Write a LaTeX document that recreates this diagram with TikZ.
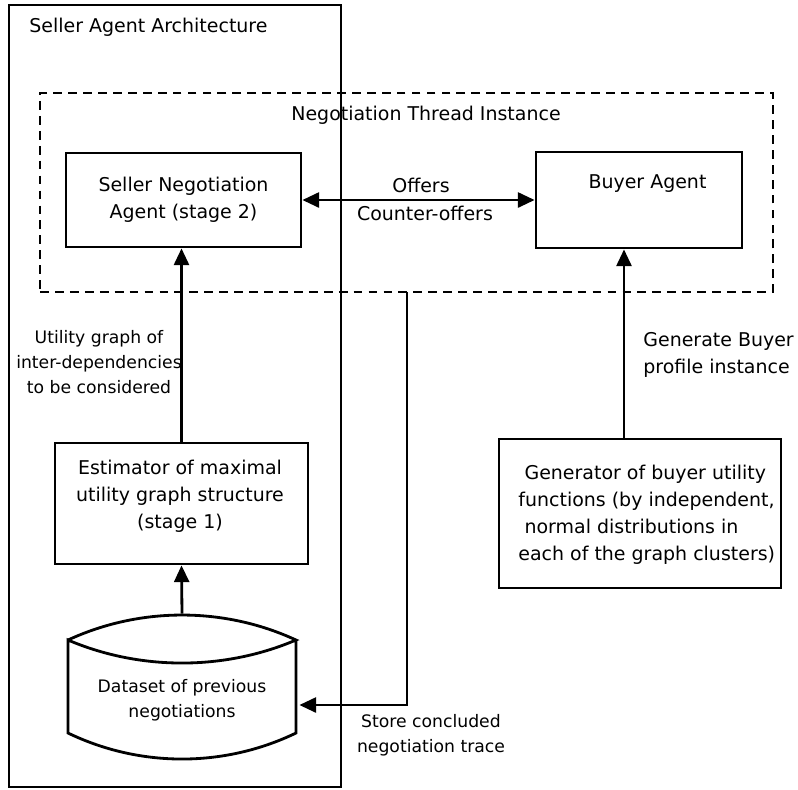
\documentclass[tikz,border=0pt]{standalone}
\usepackage{fontspec}
\setmainfont{DejaVu Sans}
\usetikzlibrary{arrows.meta}
\usetikzlibrary{calc}

\begin{document}
\begin{tikzpicture}[x=0.02cm, y=-0.02cm, line width=1.6pt,
  box/.style={draw, inner sep=0},
  txt/.style={font=\fontsize{10.8}{15.4}\selectfont, inner sep=0, align=center},
  small/.style={font=\fontsize{9.8}{14.2}\selectfont, inner sep=0, align=center},
  arr/.style={-{Triangle[length=9.5pt,width=8.5pt]}},
  arrboth/.style={{Triangle[length=9.5pt,width=8.5pt]}-{Triangle[length=9.5pt,width=8.5pt]}}]
\useasboundingbox (0,0) rectangle (798,789);
% seller side and the thread running between the agents
\node[box, minimum width=6.64cm, minimum height=15.64cm] (seller) at (175,396) {};
\node[txt, anchor=west] (sellertitle) at (28,27) {Seller Agent Architecture};
\node[box, dash pattern=on 5pt off 3.5pt, minimum width=14.66cm, minimum height=3.98cm] (thread) at (406.5,192.5) {};
\node[txt] (threadtitle) at (426,115) {Negotiation Thread Instance};
% agents
\node[box, txt, minimum width=4.7cm, minimum height=1.88cm] (sna) at (183.5,200) {Seller Negotiation\\Agent (stage 2)};
\node[box, minimum width=4.12cm, minimum height=1.92cm] (buyer) at (639,200) {};
\node[txt] (buyertxt) at (647.5,184) {Buyer Agent};
% estimator and generator
\node[box, minimum width=5.06cm, minimum height=2.42cm] (est) at (181.5,503.5) {};
\node[txt] (esttxt) at (180,496.5) {Estimator of maximal\\utility graph structure\\(stage 1)};
\node[box, minimum width=5.64cm, minimum height=2.98cm] (gen) at (640,513.5) {};
\node[txt, align=left, anchor=west] (gentxt) at (517,514.5) {\hspace*{3.5pt}Generator of buyer utility\\functions (by independent,\\\hspace*{3.5pt}normal distributions in\\each of the graph clusters)};
% dataset drum
\draw (68,640) .. controls (140,606.7) and (224,606.7) .. (296,640)
  .. controls (224,670.7) and (140,670.7) .. (68,640) -- (68,733)
  .. controls (140,767.7) and (224,767.7) .. (296,733) -- (296,640);
\node[inner sep=0, minimum width=4.56cm, minimum height=2.88cm] (data) at (182,687) {};
\node[small] (datatxt) at (182,700.5) {Dataset of previous\\negotiations};
% connectors
\draw[arrboth] (sna.east) -- (buyer.west);
\draw[arr] (data.north) -- (est.south);
\draw[arr] (est.north) -- (est.north |- sna.south);
\coordinate (genout) at ($(gen.north)+(-16,0)$);
\draw[arr] (genout) -- (genout |- buyer.south);
\coordinate (traceout) at (407,292);
\draw[arr] (traceout) |- ($(data.east)+(2,18)$);
% labels
\node[txt] (offers) at (421,185) {Offers};
\node[txt] (counter) at (425,213) {Counter-offers};
\node[small] (deplabel) at (99,362) {Utility graph of\\inter-dependencies\\to be considered};
\node[txt, align=left, anchor=west] (genlabel) at (642,355) {Generate Buyer\\profile instance};
\node[small] (tracelabel) at (431,735.5) {Store concluded\\negotiation trace};
\end{tikzpicture}
\end{document}
